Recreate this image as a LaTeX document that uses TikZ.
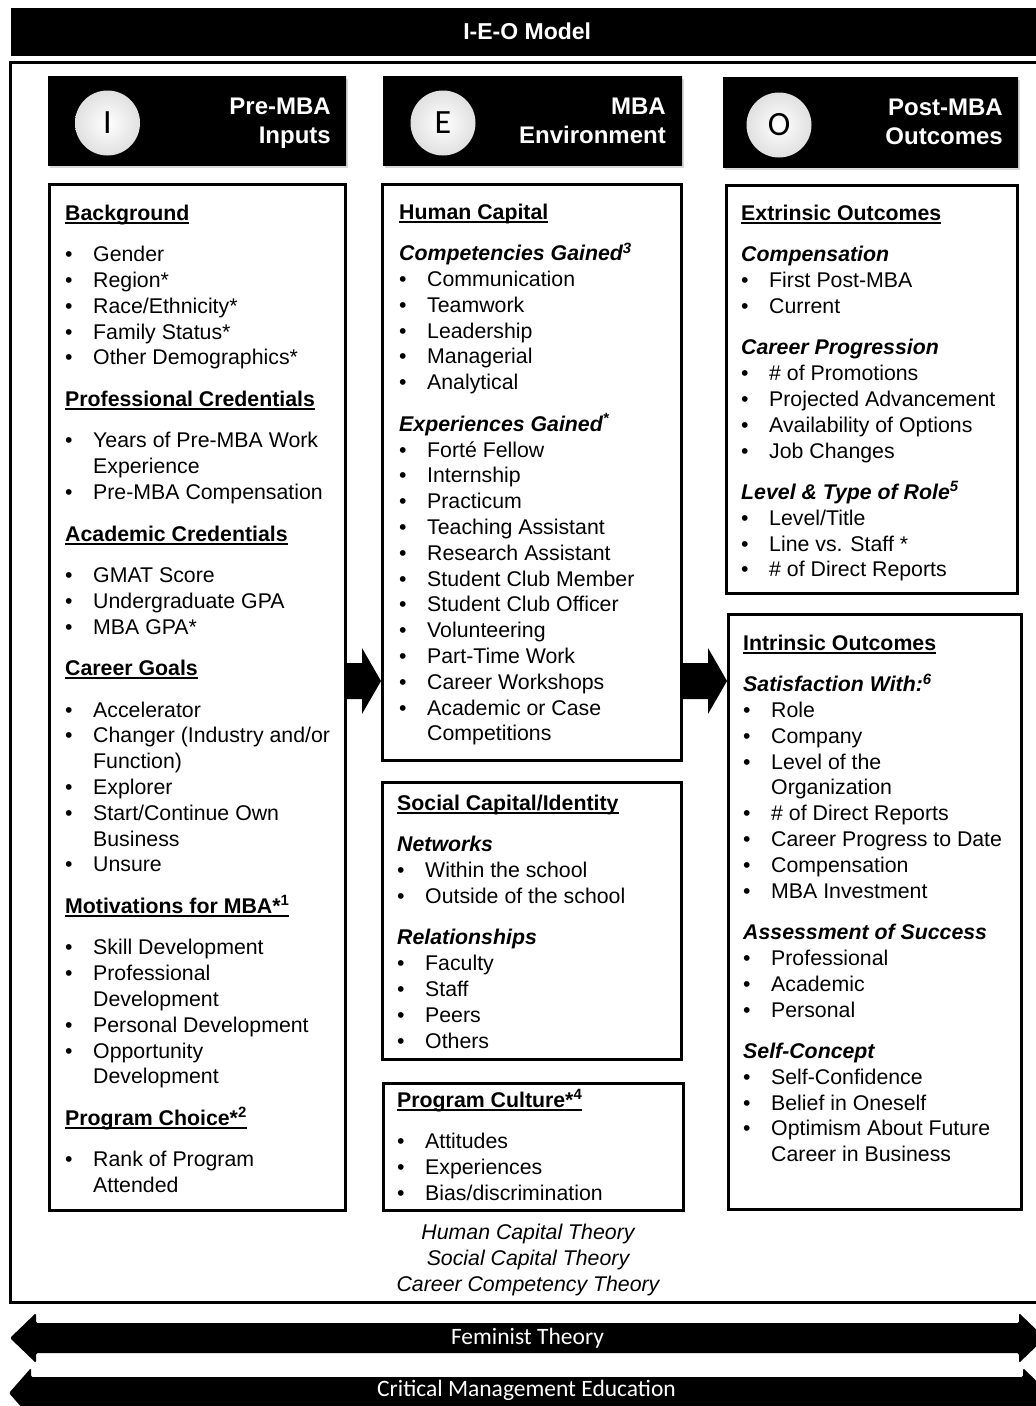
\documentclass[tikz,border=0pt]{standalone}
\usepackage{fontspec}
\setmainfont{Liberation Sans}
\newfontfamily\calfont{Carlito}
\usetikzlibrary{positioning,calc,shadows}

\pgfdeclareverticalshading{bevel}{100bp}{color(0bp)=(black); color(78bp)=(black); color(93bp)=(black!85); color(100bp)=(black!55)}

% list helpers
\newsavebox\hdbox
\newcommand{\listhd}[1]{\rule{0pt}{20pt}\sbox\hdbox{\bfseries #1}\rlap{\rule[-3.6pt]{\wd\hdbox}{1.8pt}}\usebox\hdbox}
\newcommand{\listsub}[1]{\textbf{\textit{#1}}}
\newcommand{\bul}[1]{\makebox[28pt][l]{\textbullet}#1}
\newcommand{\cont}[1]{\hspace*{28pt}#1}

\begin{document}
\begin{tikzpicture}[x=1pt,y=-1pt,
  bar/.style={shading=bevel, text=white},
  headbox/.style={shading=bevel, anchor=north west, minimum height=89pt,
    drop shadow={opacity=.3, shadow xshift=2pt, shadow yshift=-3pt}},
  letter/.style={circle, inner sep=0pt, minimum size=65pt, inner color=white, outer color=black!12,
    font=\calfont\fontsize{34}{34}\selectfont},
  headtext/.style={text=white, align=right, anchor=north east, inner sep=0pt,
    font=\bfseries\fontsize{24}{29}\selectfont},
  listbox/.style={draw, line width=3pt, anchor=north west},
  listtext/.style={align=left, anchor=north west, inner sep=0pt, font=\fontsize{21.3}{25.8}\selectfont},
  bandtext/.style={text=white, font=\calfont\fontsize{23.5}{28}\selectfont}]
\useasboundingbox (0,0) rectangle (1036,1406);
\clip (0,0) rectangle (1036,1406);

% title and frame
\node[bar, anchor=north west, minimum width=1032pt, minimum height=47pt,
  font=\bfseries\fontsize{23}{28}\selectfont] (title) at (11,8) {I-E-O Model};
\node[draw, line width=3pt, anchor=north west, minimum width=1040pt, minimum height=1240pt] (model) at (9,61) {};

% column heads
\node[headbox, minimum width=298pt] (ihead) at (48,76) {};
\node[headbox, minimum width=299pt] (ehead) at (383,76) {};
\node[headbox, minimum width=295pt, minimum height=90pt] (ohead) at (723,77) {};
\node[letter] (icirc) at (107.5,123) {I};
\node[letter] (ecirc) at (443,123) {E};
\node[letter] (ocirc) at (779,125) {O};
\node[headtext] (ititle) at (331,97.5) {Pre-MBA\\Inputs};
\node[headtext] (etitle) at (666,97.5) {MBA\\Environment};
\node[headtext] (otitle) at (1003,99) {Post-MBA\\Outcomes};

% boxes
\node[listbox, minimum width=296pt, minimum height=1026pt] (inbox) at (48,183) {};
\node[listbox, minimum width=299pt, minimum height=576pt] (envbox) at (381,183) {};
\node[listbox, minimum width=299pt, minimum height=277pt] (socbox) at (381,781) {};
\node[listbox, minimum width=300pt, minimum height=127pt] (culbox) at (382,1082) {};
\node[listbox, minimum width=291pt, minimum height=408pt] (extbox) at (725,184) {};
\node[listbox, minimum width=293pt, minimum height=595pt] (intbox) at (727,613) {};

\node[listtext] (intext) at (65,200) {\listhd{Background}\\[15.7pt]
\bul{Gender}\\
\bul{Region*}\\
\bul{Race/Ethnicity*}\\
\bul{Family Status*}\\
\bul{Other Demographics*}\\[15.7pt]
\listhd{Professional Credentials}\\[15.7pt]
\bul{Years of Pre-MBA Work}\\
\cont{Experience}\\
\bul{Pre-MBA Compensation}\\[15.7pt]
\listhd{Academic Credentials}\\[15.7pt]
\bul{GMAT Score}\\
\bul{Undergraduate GPA}\\
\bul{MBA GPA*}\\[15.7pt]
\listhd{Career Goals}\\[15.7pt]
\bul{Accelerator}\\
\bul{Changer (Industry and/or}\\
\cont{Function)}\\
\bul{Explorer}\\
\bul{Start/Continue Own}\\
\cont{Business}\\
\bul{Unsure}\\[15.7pt]
\listhd{Motivations for MBA*\textsuperscript{1}}\\[15.7pt]
\bul{Skill Development}\\
\bul{Professional}\\
\cont{Development}\\
\bul{Personal Development}\\
\bul{Opportunity}\\
\cont{Development}\\[15.7pt]
\listhd{Program Choice*\textsuperscript{2}}\\[15.7pt]
\bul{Rank of Program}\\
\cont{Attended}};

\node[listtext] (envtext) at (399,199) {\listhd{Human Capital}\\[15.7pt]
\listsub{Competencies Gained\textsuperscript{3}}\\
\bul{Communication}\\
\bul{Teamwork}\\
\bul{Leadership}\\
\bul{Managerial}\\
\bul{Analytical}\\[15.7pt]
\listsub{Experiences Gained\textsuperscript{*}}\\
\bul{Forté Fellow}\\
\bul{Internship}\\
\bul{Practicum}\\
\bul{Teaching Assistant}\\
\bul{Research Assistant}\\
\bul{Student Club Member}\\
\bul{Student Club Officer}\\
\bul{Volunteering}\\
\bul{Part-Time Work}\\
\bul{Career Workshops}\\
\bul{Academic or Case}\\
\cont{Competitions}};

\node[listtext] (soctext) at (397,790) {\listhd{Social Capital/Identity}\\[15.7pt]
\listsub{Networks}\\
\bul{Within the school}\\
\bul{Outside of the school}\\[15.7pt]
\listsub{Relationships}\\
\bul{Faculty}\\
\bul{Staff}\\
\bul{Peers}\\
\bul{Others}};

\node[listtext] (cultext) at (397,1087) {\listhd{Program Culture*\textsuperscript{4}}\\[15.7pt]
\bul{Attitudes}\\
\bul{Experiences}\\
\bul{Bias/discrimination}};

\node[listtext] (exttext) at (741,200) {\listhd{Extrinsic Outcomes}\\[15.7pt]
\listsub{Compensation}\\
\bul{First Post-MBA}\\
\bul{Current}\\[15.7pt]
\listsub{Career Progression}\\
\bul{\# of Promotions}\\
\bul{Projected Advancement}\\
\bul{Availability of Options}\\
\bul{Job Changes}\\[15.7pt]
\listsub{Level \& Type of Role\textsuperscript{5}}\\
\bul{Level/Title}\\
\bul{Line vs. Staff *}\\
\bul{\# of Direct Reports}};

\node[listtext] (inttext) at (743,630) {\listhd{Intrinsic Outcomes}\\[15.7pt]
\listsub{Satisfaction With:\textsuperscript{6}}\\
\bul{Role}\\
\bul{Company}\\
\bul{Level of the}\\
\cont{Organization}\\
\bul{\# of Direct Reports}\\
\bul{Career Progress to Date}\\
\bul{Compensation}\\
\bul{MBA Investment}\\[15.7pt]
\listsub{Assessment of Success}\\
\bul{Professional}\\
\bul{Academic}\\
\bul{Personal}\\[15.7pt]
\listsub{Self-Concept}\\
\bul{Self-Confidence}\\
\bul{Belief in Oneself}\\
\bul{Optimism About Future}\\
\cont{Career in Business}};

% flow arrows
\coordinate (flowrow) at (0,681);
\coordinate (a1) at (inbox.east |- flowrow);
\coordinate (a2) at (envbox.west |- flowrow);
\coordinate (b1) at (envbox.east |- flowrow);
\coordinate (b2) at (intbox.west |- flowrow);
\fill ($(a1)+(-2,-18)$) -- ($(a2)+(-19,-18)$) -- ($(a2)+(-19,-33)$) -- (a2)
  -- ($(a2)+(-19,33)$) -- ($(a2)+(-19,18)$) -- ($(a1)+(-2,18)$) -- cycle;
\fill ($(b1)+(-2,-18)$) -- ($(b2)+(-19,-18)$) -- ($(b2)+(-19,-33)$) -- (b2)
  -- ($(b2)+(-19,33)$) -- ($(b2)+(-19,18)$) -- ($(b1)+(-2,18)$) -- cycle;

\node[align=center, font=\itshape\fontsize{21.3}{26}\selectfont] (theory) at (528,1259.5)
  {Human Capital Theory\\Social Capital Theory\\Career Competency Theory};

% theory bands
\fill[rounded corners=1.5pt] (10,1338) -- (36,1313) -- (36,1323) -- (1019,1323) -- (1019,1313) -- (1045,1338)
  -- (1019,1363) -- (1019,1353) -- (36,1353) -- (36,1363) -- cycle;
\node[bandtext] (feminist) at (527.5,1338) {Feminist Theory};
\fill[rounded corners=1.5pt] (9,1393) -- (31,1368) -- (31,1377) -- (1023,1377) -- (1023,1368) -- (1049,1393)
  -- (1023,1418) -- (1023,1407) -- (31,1407) -- (31,1418) -- cycle;
\node[bandtext] (cme) at (526.5,1390) {Critical Management Education};
\end{tikzpicture}
\end{document}
